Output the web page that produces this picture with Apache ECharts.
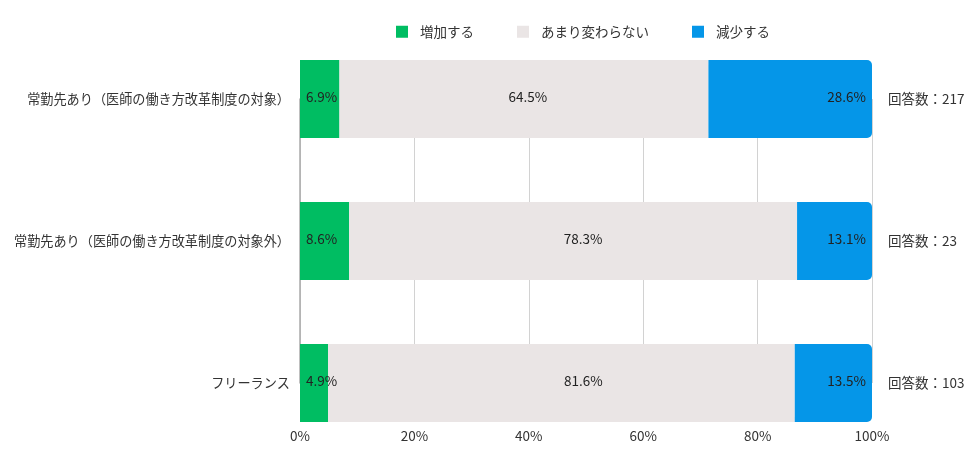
<!DOCTYPE html>
<html><head><meta charset="utf-8">
<script src="https://cdn.jsdelivr.net/npm/echarts@6/dist/echarts.min.js"></script>
<style>html,body{margin:0;padding:0;background:#fff}#c{width:976px;height:459px}</style>
</head><body><div id="c"></div>
<script>
const categories = ['常勤先あり（医師の働き方改革制度の対象）', '常勤先あり（医師の働き方改革制度の対象外）', 'フリーランス'];
const respondents = ['回答数：217', '回答数：23', '回答数：103'];
const seriesNames = ['増加する', 'あまり変わらない', '減少する'];
const increase = [6.9, 8.6, 4.9];
const unchanged = [64.5, 78.3, 81.6];
const decrease = [28.6, 13.1, 13.5];
const xTicks = [0, 20, 40, 60, 80, 100];

// styling only: horizontal shift of the middle labels as placed in the reference
const midLabelShift = [4, 10, 22];

const font = '"Noto Sans CJK JP", "Noto Sans", sans-serif';
const fs = 13.5;
const colors = ['#00bd62', '#eae5e5', '#0596e8'];
const positions = ['insideLeft', 'inside', 'insideRight'];
const values = [increase, unchanged, decrease];

const chart = echarts.init(document.getElementById('c'));
chart.setOption({
  animation: false,
  textStyle: { fontFamily: font },
  legend: {
    top: 20, left: 391, itemWidth: 12, itemHeight: 12, itemGap: 43,
    icon: 'rect',
    textStyle: { fontFamily: font, fontSize: fs, color: '#333', padding: [0, 0, 0, 7] },
    data: seriesNames
  },
  grid: { left: 300, right: 104, top: 99, bottom: 76, containLabel: false },
  xAxis: {
    type: 'value', min: xTicks[0], max: xTicks[xTicks.length - 1], interval: 20,
    axisLine: { show: false }, axisTick: { show: false },
    splitLine: { lineStyle: { color: '#d2d2d2', width: 1 } },
    axisLabel: { formatter: '{value}%', fontFamily: font, fontSize: fs, color: '#333', margin: 46 }
  },
  yAxis: [{
    type: 'category', inverse: true, boundaryGap: false, data: categories,
    axisLine: { show: true, lineStyle: { color: '#aaa', width: 1.5 } },
    axisTick: { show: false },
    axisLabel: { fontFamily: font, fontSize: 13.15, color: '#333', margin: 10 }
  }, {
    type: 'category', inverse: true, boundaryGap: false, data: respondents, position: 'right',
    axisLine: { show: false }, axisTick: { show: false },
    axisLabel: { fontFamily: font, fontSize: fs, color: '#333', margin: 16 }
  }],
  series: seriesNames.map((n, i) => ({
    name: n, type: 'bar', stack: 'total', barWidth: 78,
    data: values[i].map((v, j) => i === 1
      ? { value: v, label: { offset: [midLabelShift[j], -2] } }
      : v),
    itemStyle: { color: colors[i], borderRadius: i === 2 ? [0, 5, 5, 0] : 0 },
    label: {
      show: true, position: positions[i], distance: 6, offset: [0, -2],
      formatter: p => p.value.toFixed(1) + '%',
      fontFamily: font, fontSize: fs, color: '#222'
    },
    emphasis: { disabled: true }
  }))
});
</script></body></html>
